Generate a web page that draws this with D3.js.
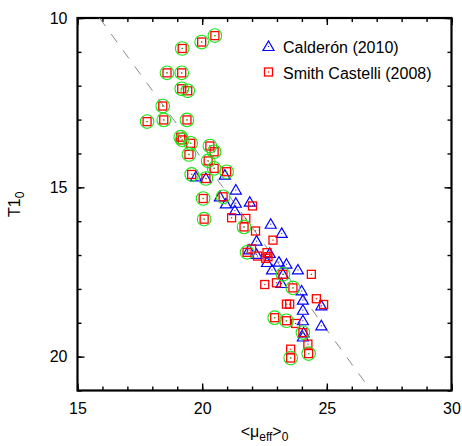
<!DOCTYPE html>
<html>
<head>
<meta charset="utf-8">
<script src="https://cdn.jsdelivr.net/npm/d3@7"></script>
<style>
  body { margin: 0; background: #fff; }
  svg { display: block; font-family: "Liberation Sans", Arial, sans-serif; }
</style>
</head>
<body>
<svg id="chart" width="462" height="446"></svg>
<script>
// Calderón (2010)
const caldX = [19.75, 20.15, 20.91, 21.35, 20.71, 20.95, 21.35, 21.91, 21.31, 22.75,
  23.19, 22.18, 21.88, 22.18, 22.71, 22.60, 23.08, 23.38, 23.84, 22.80,
  23.24, 23.18, 23.99, 24.04, 24.78, 24.04, 24.04, 24.78, 24.07, 24.04];
const caldY = [14.69, 14.74, 14.64, 15.08, 15.28, 15.49, 15.47, 15.44, 15.69, 16.09,
  16.36, 16.59, 16.85, 16.98, 16.95, 17.22, 17.21, 17.27, 17.44, 17.44,
  17.57, 17.84, 18.06, 18.33, 18.50, 18.63, 18.94, 19.09, 19.30, 19.42];

// Smith Castelli (2008); ring = 1 where a green circle marks the point
const smithX = [20.51, 19.98, 19.20, 18.59, 19.18, 19.18, 19.42, 18.42, 17.79, 18.46,
  19.39, 19.14, 19.20, 19.54, 19.47, 20.31, 20.48, 20.24, 20.48, 20.98,
  19.58, 20.15, 20.04, 20.84, 22.02, 21.18, 21.75, 20.08, 21.68, 22.14,
  22.84, 21.80, 21.98, 22.22, 22.60, 22.64, 22.55, 23.24, 24.38, 23.64,
  22.51, 22.98, 24.58, 24.87, 23.38, 23.51, 22.91, 23.38, 23.75, 24.04,
  24.24, 23.55, 23.55, 24.27];
const smithY = [10.52, 10.71, 10.90, 11.62, 11.62, 12.09, 12.15, 12.60, 13.06, 13.01,
  13.01, 13.52, 13.60, 13.70, 14.03, 13.78, 13.95, 14.22, 14.44, 14.54,
  14.62, 14.74, 15.33, 15.28, 15.55, 15.90, 15.92, 15.94, 16.17, 16.29,
  16.56, 16.92, 16.82, 17.03, 16.93, 17.05, 17.10, 17.57, 17.57, 17.97,
  17.87, 17.82, 18.29, 18.46, 18.45, 18.45, 18.85, 18.94, 19.02, 19.29,
  19.63, 19.78, 20.04, 19.91];
const smithRing = [1, 1, 1, 1, 1, 1, 1, 1, 1, 1,
  1, 1, 1, 1, 1, 1, 1, 1, 1, 1,
  1, 1, 1, 1, 0, 0, 0, 1, 1, 0,
  0, 1, 0, 0, 0, 0, 0, 1, 0, 1,
  0, 0, 0, 0, 0, 0, 1, 1, 0, 1,
  0, 0, 1, 1];

const xDomain = [15, 30];
const yDomain = [10, 21];
const xMajor = [15, 20, 25, 30];
const yMajor = [10, 15, 20];
const fitSlope = 1.01;
const fitIntercept = -6.04;

const seriesNames = ['Calderón (2010)', 'Smith Castelli (2008)'];

const svg = d3.select('#chart');
const pL = 77.5, pR = 451.5, pT = 18, pB = 390.5;

const x = d3.scaleLinear().domain(xDomain).range([pL, pR]);
const y = d3.scaleLinear().domain(yDomain).range([pT, pB]);

const xMinor = d3.range(xDomain[0], xDomain[1] + 1, 1);
const yMinor = d3.range(yDomain[0], yDomain[1] + 1, 1);

// axes, ticks inward on all four sides
function addAxis(gen, tx, ty, values, size, labels, pad) {
  const g = svg.append('g')
    .attr('transform', 'translate(' + tx + ',' + ty + ')')
    .call(gen.tickValues(values).tickSize(-size).tickSizeOuter(0)
      .tickPadding(pad || 3).tickFormat(labels ? d3.format('d') : ''));
  g.select('.domain').remove();
  g.selectAll('line').attr('stroke', '#000').attr('stroke-width', 1.4);
  g.selectAll('text').attr('font-size', 16).attr('fill', '#000')
    .attr('font-family', '"Liberation Sans", Arial, sans-serif');
  return g;
}

addAxis(d3.axisBottom(x), 0, pB, xMinor, 4, false);
addAxis(d3.axisBottom(x), 0, pB, xMajor, 7, true, 12);
addAxis(d3.axisTop(x), 0, pT, xMinor, 4, false);
addAxis(d3.axisTop(x), 0, pT, xMajor, 7, false);
addAxis(d3.axisLeft(y), pL, 0, yMinor, 4, false);
addAxis(d3.axisLeft(y), pL, 0, yMajor, 7, true, 10);
addAxis(d3.axisRight(y), pR, 0, yMinor, 4, false);
addAxis(d3.axisRight(y), pR, 0, yMajor, 7, false);

svg.append('rect')
  .attr('x', pL).attr('y', pT)
  .attr('width', pR - pL).attr('height', pB - pT)
  .attr('fill', 'none').attr('stroke', '#000').attr('stroke-width', 2.2);

// dashed relation line, clipped to the frame
svg.append('clipPath').attr('id', 'clip')
  .append('rect').attr('x', pL).attr('y', pT)
  .attr('width', pR - pL).attr('height', pB - pT);

const fitPts = yDomain.map(v => [(v - fitIntercept) / fitSlope, v]);
svg.append('path')
  .attr('clip-path', 'url(#clip)')
  .attr('d', d3.line().x(d => x(d[0])).y(d => y(d[1]))(fitPts))
  .attr('fill', 'none').attr('stroke', '#8a8a8a').attr('stroke-width', 1)
  .attr('stroke-dasharray', '10,10');

const triPath = 'M0,-5.5L5.5,4L-5.5,4Z';
const plot = svg.append('g').attr('clip-path', 'url(#clip)');

function tri(g, px, py) {
  g.append('path').attr('d', triPath)
    .attr('transform', 'translate(' + px + ',' + py + ')')
    .attr('fill', 'none').attr('stroke', '#0000ff').attr('stroke-width', 1.2);
  g.append('rect').attr('x', px - 0.5).attr('y', py - 0.5)
    .attr('width', 1).attr('height', 1).attr('fill', '#0000ff');
}
function sq(g, px, py) {
  g.append('rect').attr('x', px - 4).attr('y', py - 4)
    .attr('width', 8).attr('height', 8)
    .attr('fill', 'none').attr('stroke', '#ff0000').attr('stroke-width', 1.3);
  g.append('rect').attr('x', px - 0.6).attr('y', py - 0.6)
    .attr('width', 1.2).attr('height', 1.2).attr('fill', '#ff0000');
}

caldX.forEach((v, i) => tri(plot, x(v), y(caldY[i])));
smithX.forEach((v, i) => sq(plot, x(v), y(smithY[i])));

// green rings
const ringed = smithX.map((v, i) => [v, smithY[i], smithRing[i]]).filter(d => d[2]);
plot.selectAll('circle.ring')
  .data(ringed)
  .enter()
  .append('circle')
  .attr('class', 'ring')
  .attr('cx', d => x(d[0])).attr('cy', d => y(d[1]))
  .attr('r', 6.8)
  .attr('fill', 'none').attr('stroke', '#19e619').attr('stroke-width', 1.1);
plot.selectAll('rect.rdot')
  .data(ringed)
  .enter()
  .append('rect')
  .attr('class', 'rdot')
  .attr('x', d => x(d[0]) - 0.6).attr('y', d => y(d[1]) - 0.6)
  .attr('width', 1.2).attr('height', 1.2).attr('fill', '#19c819');

// legend
const leg = svg.append('g');
tri(leg, 268.5, 46.5);
sq(leg, 268.5, 72);
leg.selectAll('text')
  .data(seriesNames)
  .enter()
  .append('text')
  .attr('x', 283)
  .attr('y', (d, i) => 53 + i * 25.5)
  .attr('font-size', 16)
  .attr('fill', '#000')
  .text(d => d);

// axis titles
const xt = svg.append('text')
  .attr('x', (pL + pR) / 2).attr('y', 437)
  .attr('text-anchor', 'middle').attr('font-size', 16);
xt.append('tspan').text('<μ');
xt.append('tspan').attr('font-size', 12).attr('dy', 4).text('eff');
xt.append('tspan').attr('dy', -4).text('>');
xt.append('tspan').attr('font-size', 12).attr('dy', 4).text('0');

const yt = svg.append('text')
  .attr('transform', 'translate(20,' + ((pT + pB) / 2) + ') rotate(-90)')
  .attr('text-anchor', 'middle').attr('font-size', 16);
yt.append('tspan').text('T1');
yt.append('tspan').attr('font-size', 12).attr('dy', 4).text('0');
</script>
</body>
</html>
